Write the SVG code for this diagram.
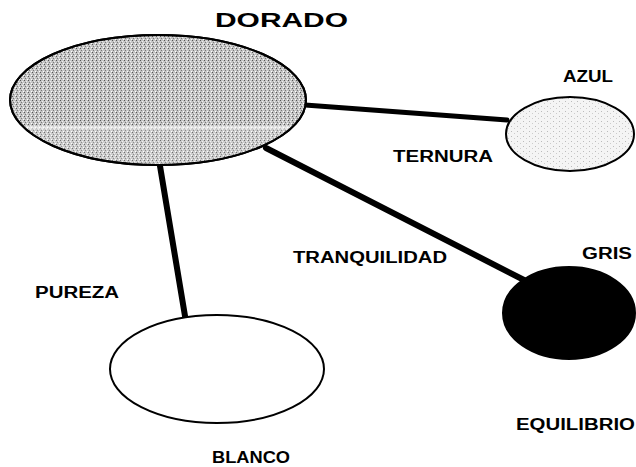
<svg xmlns="http://www.w3.org/2000/svg" width="636" height="467" viewBox="0 0 636 467">
<defs>
<pattern id="stip" width="4" height="4" patternUnits="userSpaceOnUse">
<rect width="4" height="4" fill="#c4c4c4"/>
<rect x="0" y="0" width="1" height="1" fill="#555"/>
<rect x="2" y="1" width="1" height="1" fill="#eee"/>
<rect x="1" y="2" width="1" height="1" fill="#777"/>
<rect x="3" y="3" width="1" height="1" fill="#fff"/>
</pattern>
<pattern id="light" width="6" height="5" patternUnits="userSpaceOnUse">
<rect width="6" height="5" fill="#f4f4f4"/>
<rect x="1" y="1" width="1" height="1" fill="#bbb"/>
<rect x="4" y="3" width="1" height="1" fill="#ccc"/>
</pattern>
<clipPath id="dclip"><ellipse cx="158" cy="100" rx="147" ry="64"/></clipPath>
</defs>
<style>
.lbl{font-family:"Liberation Sans",Arial,sans-serif;font-weight:bold;font-size:16px;fill:#000}
.title{font-family:"Liberation Sans",Arial,sans-serif;font-weight:bold;font-size:21px;fill:#000}
.edge{stroke:#000;stroke-linecap:round;fill:none}
.node{stroke:#000;stroke-width:2}
</style>
<g id="connectors">
<line class="edge" x1="305" y1="105" x2="507" y2="120" stroke-width="5"/>
<line class="edge" x1="266" y1="148" x2="526" y2="281" stroke-width="6"/>
<line class="edge" x1="160" y1="166" x2="186" y2="322" stroke-width="6"/>
</g>
<g id="dorado">
<ellipse class="node" cx="158" cy="100" rx="148" ry="65" fill="url(#stip)"/>
<g clip-path="url(#dclip)">
<rect x="10" y="126" width="296" height="3" fill="#fff" opacity="0.6"/>
<rect x="10" y="129" width="296" height="36" fill="#fff" opacity="0.15"/>
</g>
<ellipse cx="158" cy="100" rx="148" ry="65" fill="none" stroke="#000" stroke-width="2"/>
<text class="title" x="215" y="27" textLength="133" lengthAdjust="spacingAndGlyphs">DORADO</text>
</g>
<g id="azul">
<ellipse class="node" cx="570" cy="134" rx="64" ry="37" fill="url(#light)"/>
<text class="lbl" x="563" y="82" textLength="50" lengthAdjust="spacingAndGlyphs">AZUL</text>
</g>
<g id="ternura"><text class="lbl" x="393" y="162" textLength="100" lengthAdjust="spacingAndGlyphs">TERNURA</text></g>
<g id="gris">
<ellipse class="node" cx="569" cy="313" rx="66" ry="46" fill="#000"/>
<text class="lbl" x="582" y="259" textLength="50" lengthAdjust="spacingAndGlyphs">GRIS</text>
</g>
<g id="tranquilidad"><text class="lbl" x="293" y="263" textLength="154" lengthAdjust="spacingAndGlyphs">TRANQUILIDAD</text></g>
<g id="pureza"><text class="lbl" x="35" y="298" textLength="84" lengthAdjust="spacingAndGlyphs">PUREZA</text></g>
<g id="blanco">
<ellipse class="node" cx="217" cy="369" rx="107" ry="54" fill="#fff"/>
<text class="lbl" x="212" y="463" textLength="78" lengthAdjust="spacingAndGlyphs">BLANCO</text>
</g>
<g id="equilibrio"><text class="lbl" x="516" y="430" textLength="119" lengthAdjust="spacingAndGlyphs">EQUILIBRIO</text></g>
</svg>
